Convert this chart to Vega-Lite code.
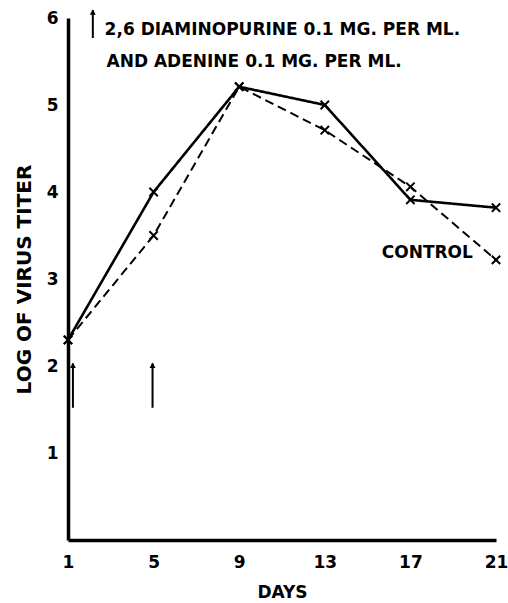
{
  "$schema": "https://vega.github.io/schema/vega-lite/v6.json",
  "autosize": "none",
  "width": 428,
  "height": 522,
  "padding": {"left": 68, "top": 18, "right": 12, "bottom": 63},
  "background": "white",
  "config": {
    "view": {"stroke": null},
    "font": "DejaVu Sans",
    "axis": {"domainColor": "black", "domainWidth": 3.5, "ticks": false, "grid": false, "labelColor": "black", "titleColor": "black", "labelFont": "DejaVu Sans", "titleFont": "DejaVu Sans", "labelFontSize": 17, "labelFontWeight": "bold", "titleFontSize": 17, "titleFontWeight": "bold"}
  },
  "datasets": {
    "titer": [
      {"day": 1, "log_titer": 2.3, "series": "Treated"},
      {"day": 5, "log_titer": 4.0, "series": "Treated"},
      {"day": 9, "log_titer": 5.21, "series": "Treated"},
      {"day": 13, "log_titer": 5.0, "series": "Treated"},
      {"day": 17, "log_titer": 3.91, "series": "Treated"},
      {"day": 21, "log_titer": 3.82, "series": "Treated"},
      {"day": 1, "log_titer": 2.3, "series": "Control"},
      {"day": 5, "log_titer": 3.5, "series": "Control"},
      {"day": 9, "log_titer": 5.21, "series": "Control"},
      {"day": 13, "log_titer": 4.71, "series": "Control"},
      {"day": 17, "log_titer": 4.06, "series": "Control"},
      {"day": 21, "log_titer": 3.22, "series": "Control"}
    ],
    "arrows": [
      {"day": 1.23, "from": 1.52, "to": 2.03},
      {"day": 4.95, "from": 1.52, "to": 2.03},
      {"day": 2.16, "from": 5.77, "to": 6.09}
    ],
    "labels": [
      {"day": 2.71, "value": 5.86, "text": "2,6 DIAMINOPURINE 0.1 MG. PER ML."},
      {"day": 2.8, "value": 5.49, "text": "AND ADENINE 0.1 MG. PER ML."},
      {"day": 15.66, "value": 3.3, "text": "CONTROL"}
    ]
  },
  "layer": [
    {
      "data": {"name": "titer"},
      "mark": {"type": "line", "color": "black", "clip": false},
      "encoding": {
        "x": {"field": "day", "type": "quantitative", "scale": {"domain": [1, 21], "nice": false, "zero": false}, "axis": {"values": [1, 5, 9, 13, 17, 21], "format": "d", "title": "DAYS", "labelPadding": 14, "titlePadding": 14, "labelFlush": false}},
        "y": {"field": "log_titer", "type": "quantitative", "scale": {"domain": [0, 6], "nice": false}, "axis": {"values": [1, 2, 3, 4, 5, 6], "format": "d", "title": "LOG OF VIRUS TITER", "titleFontSize": 20, "labelPadding": 10, "titlePadding": 12, "labelFlush": false}},
        "detail": {"field": "series"},
        "strokeDash": {"field": "series", "type": "nominal", "scale": {"domain": ["Treated", "Control"], "range": [[1, 0], [9, 5]]}, "legend": null},
        "strokeWidth": {"field": "series", "type": "nominal", "scale": {"domain": ["Treated", "Control"], "range": [2.6, 2]}, "legend": null}
      }
    },
    {
      "data": {"name": "titer"},
      "mark": {"type": "point", "shape": "M-1,-1L1,1M1,-1L-1,1", "filled": false, "color": "black", "strokeWidth": 2, "size": 70, "opacity": 1, "clip": false},
      "encoding": {
        "x": {"field": "day", "type": "quantitative"},
        "y": {"field": "log_titer", "type": "quantitative"}
      }
    },
    {
      "data": {"name": "arrows"},
      "mark": {"type": "rule", "color": "black", "strokeWidth": 2, "clip": false},
      "encoding": {
        "x": {"field": "day", "type": "quantitative"},
        "y": {"field": "from", "type": "quantitative"},
        "y2": {"field": "to"}
      }
    },
    {
      "data": {"name": "arrows"},
      "mark": {"type": "point", "shape": "triangle-up", "filled": true, "color": "black", "size": 35, "opacity": 1, "clip": false, "yOffset": 2},
      "encoding": {
        "x": {"field": "day", "type": "quantitative"},
        "y": {"field": "to", "type": "quantitative"}
      }
    },
    {
      "data": {"name": "labels"},
      "mark": {"type": "text", "align": "left", "baseline": "middle", "fontSize": 17, "fontWeight": "bold", "color": "black", "font": "DejaVu Sans", "clip": false},
      "encoding": {
        "x": {"field": "day", "type": "quantitative"},
        "y": {"field": "value", "type": "quantitative"},
        "text": {"field": "text"}
      }
    }
  ]
}
